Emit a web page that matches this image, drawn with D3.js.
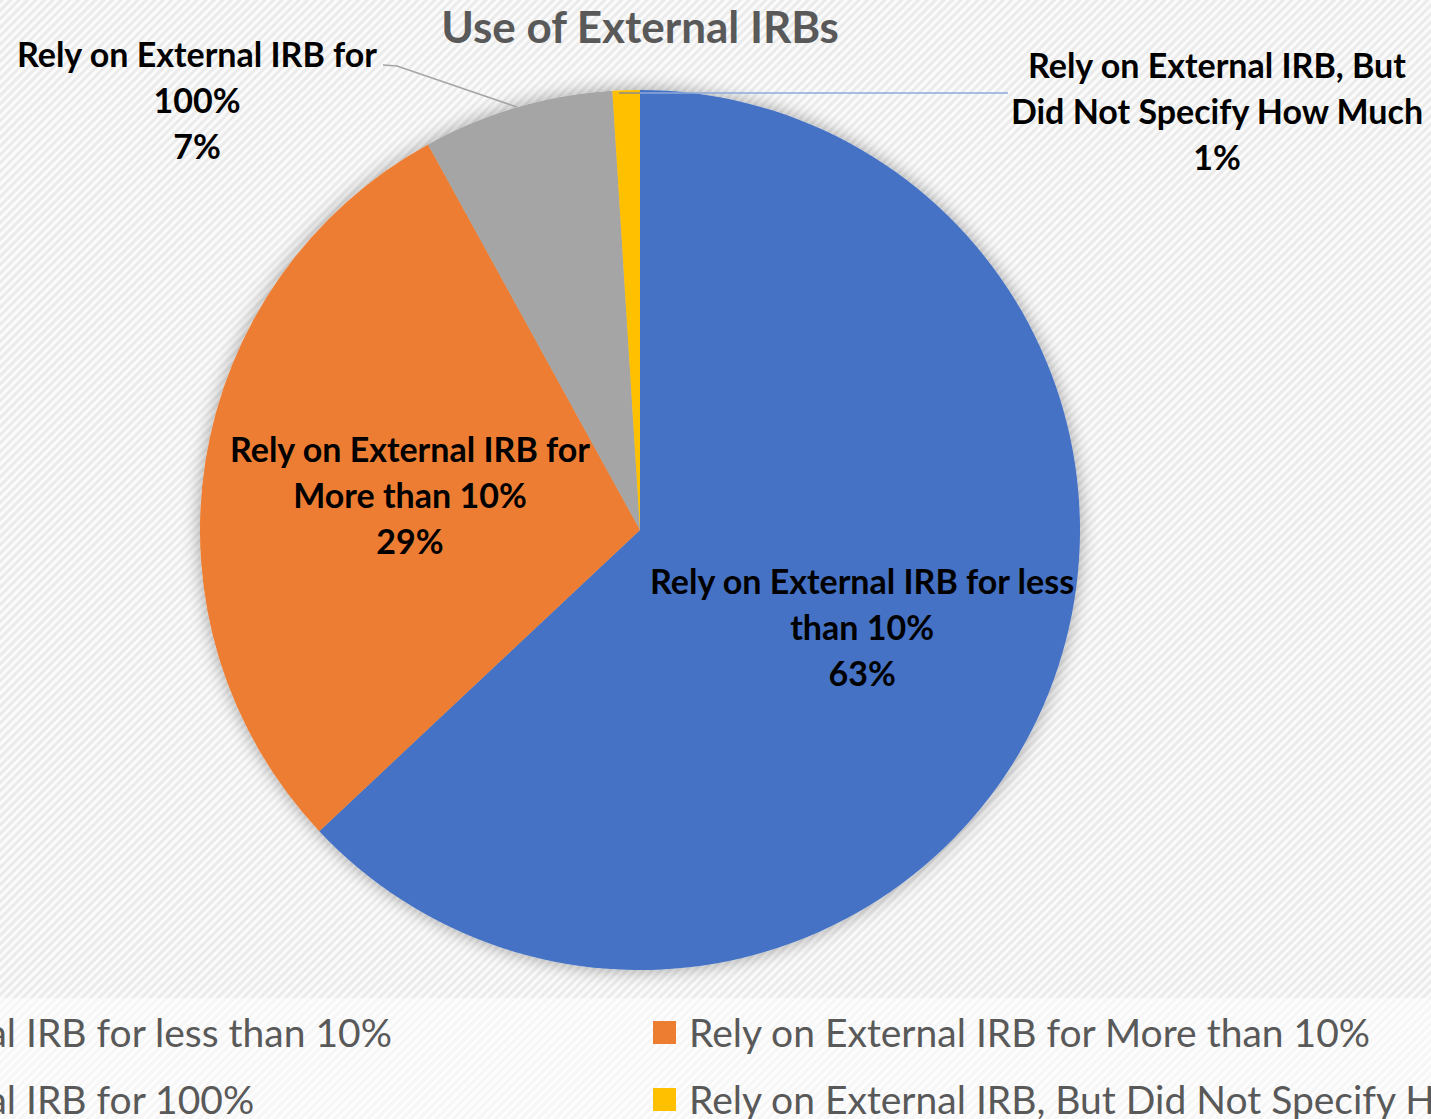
<!DOCTYPE html>
<html><head><meta charset="utf-8">
<script src="https://cdn.jsdelivr.net/npm/d3@7"></script>
<style>body{margin:0;background:#fff;overflow:hidden}svg{display:block}</style></head>
<body>
<svg id="c" width="1431" height="1119"></svg>
<script>
const title = "Use of External IRBs";
const categories = [
  "Rely on External IRB for less than 10%",
  "Rely on External IRB for More than 10%",
  "Rely on External IRB for 100%",
  "Rely on External IRB, But Did Not Specify How Much"
];
const values = [63, 29, 7, 1];
const colors = ["#4472c4", "#ed7d31", "#a5a5a5", "#ffc000"];
const labelLines = [
  ["Rely on External IRB for less", "than 10%"],
  ["Rely on External IRB for", "More than 10%"],
  ["Rely on External IRB for", "100%"],
  ["Rely on External IRB, But", "Did Not Specify How Much"]
];

const W = 1431, H = 1119;
const cx = 640, cy = 530, R = 440;
const FONT = "Lato, 'Open Sans', sans-serif";
const svg = d3.select("#c");
const defs = svg.append("defs");

function hatch(id, stroke, bg) {
  const p = defs.append("pattern").attr("id", id).attr("patternUnits", "userSpaceOnUse")
    .attr("width", 6).attr("height", 6).attr("patternTransform", "rotate(45)");
  p.append("rect").attr("width", 6).attr("height", 6).attr("fill", bg);
  p.append("rect").attr("width", 3).attr("height", 6).attr("fill", stroke);
}
hatch("h1", "#ebebeb", "#fbfbfb");
hatch("h2", "#f6f6f6", "#fdfdfd");
const f = defs.append("filter").attr("id", "sh").attr("x", "-20%").attr("y", "-20%").attr("width", "140%").attr("height", "140%");
f.append("feDropShadow").attr("dx", 0).attr("dy", 0).attr("stdDeviation", 9)
  .attr("flood-color", "#000").attr("flood-opacity", 0.35);

svg.append("rect").attr("width", W).attr("height", 998).attr("fill", "url(#h1)");
svg.append("rect").attr("y", 998).attr("width", W).attr("height", H - 998).attr("fill", "url(#h2)");

svg.append("text").attr("x", cx).attr("y", 28).attr("dy", "0.35em").attr("text-anchor", "middle")
  .attr("font-family", FONT).attr("font-weight", 700).attr("font-size", 44).attr("fill", "#595959")
  .text(title);

const pie = d3.pie().sort(null).value(d => d)(values);
const arc = d3.arc().innerRadius(0).outerRadius(R);
const g = svg.append("g").attr("transform", `translate(${cx},${cy})`);
const gs = g.append("g").attr("filter", "url(#sh)");
gs.selectAll("path").data(pie).join("path").attr("d", arc).attr("fill", (d, i) => colors[i]);

const pct = v => Math.round(v / d3.sum(values) * 100) + "%";
const labelArc = d3.arc().innerRadius(0).outerRadius(R * 1.1);

// outside label placement (relative to pie centre) and small nudges for inside labels
const outside = { 2: [-443, -429], 3: [577, -418] };
const nudge = { 0: [0, 2], 1: [9, 4] };
const lh = 46;

pie.forEach((d, i) => {
  let pos = outside[i] ? outside[i] : labelArc.centroid(d);
  if (nudge[i]) pos = [pos[0] + nudge[i][0], pos[1] + nudge[i][1]];
  const lines = labelLines[i].concat([pct(values[i])]);
  const t = g.append("text").attr("text-anchor", "middle").attr("font-family", FONT)
    .attr("font-weight", 700).attr("font-size", 34).attr("fill", "#000");
  lines.forEach((l, k) => {
    t.append("tspan").attr("x", pos[0]).attr("y", pos[1] + (k - 1) * lh).attr("dy", "0.35em").text(l);
  });
});

// leader lines
g.append("polyline").attr("fill", "none").attr("stroke", "#a5a5a5").attr("stroke-width", 1.5)
  .attr("points", [[-257, -465], [-243, -464], [-123, -423]].map(p => p.join(",")).join(" "));
const yA = -R + 3;
g.append("line").attr("x1", -21).attr("x2", 0).attr("y1", yA).attr("y2", yA)
  .attr("stroke", "#8c8c8c").attr("stroke-width", 1.5);
g.append("line").attr("x1", 0).attr("x2", 368).attr("y1", yA).attr("y2", yA)
  .attr("stroke", "#8eaadb").attr("stroke-width", 1.5);

// legend
const leg = svg.append("g");
const legFont = 39;
const colX = [null, 689];
const rowY = [1033, 1100];
const tmp = leg.append("text").attr("font-family", FONT).attr("font-size", legFont).text(categories[0]);
const w0 = tmp.node().getComputedTextLength();
tmp.remove();
colX[0] = 392 - w0;
categories.forEach((c, i) => {
  const col = i % 2, row = Math.floor(i / 2);
  const x = colX[col], y = rowY[row];
  leg.append("rect").attr("x", x - 36).attr("y", y - 12).attr("width", 23).attr("height", 23).attr("fill", colors[i]);
  leg.append("text").attr("x", x).attr("y", y).attr("dy", "0.35em").attr("font-family", FONT)
    .attr("font-size", legFont).attr("fill", "#595959").text(c);
});
</script>
</body></html>
